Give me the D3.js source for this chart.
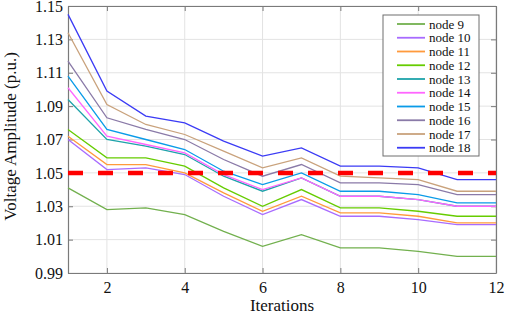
<!DOCTYPE html>
<meta charset="utf-8" />
<script src="https://d3js.org/d3.v7.min.js"></script>
<style>
  body { margin: 0; background: #fff; }
</style>
<div id="chart"></div>
<script>
  // iterations on the x axis
  const iterations = [1, 2, 3, 4, 5, 6, 7, 8, 9, 10, 11, 12];

  // voltage per node
  const node9 = [1.041, 1.028, 1.029, 1.025, 1.015, 1.006, 1.013, 1.005, 1.005, 1.003, 1.000, 1.000];
  const node10 = [1.070, 1.052, 1.053, 1.049, 1.036, 1.025, 1.034, 1.024, 1.024, 1.022, 1.019, 1.019];
  const node11 = [1.072, 1.055, 1.055, 1.050, 1.038, 1.027, 1.036, 1.026, 1.026, 1.024, 1.020, 1.020];
  const node12 = [1.076, 1.059, 1.059, 1.054, 1.041, 1.030, 1.040, 1.029, 1.029, 1.027, 1.024, 1.024];
  const node13 = [1.094, 1.070, 1.066, 1.061, 1.048, 1.039, 1.047, 1.036, 1.036, 1.034, 1.030, 1.030];
  const node14 = [1.101, 1.072, 1.067, 1.062, 1.049, 1.040, 1.047, 1.036, 1.036, 1.034, 1.030, 1.030];
  const node15 = [1.108, 1.076, 1.070, 1.064, 1.051, 1.043, 1.050, 1.039, 1.039, 1.037, 1.032, 1.032];
  const node16 = [1.117, 1.083, 1.076, 1.070, 1.058, 1.048, 1.055, 1.044, 1.044, 1.043, 1.037, 1.037];
  const node17 = [1.134, 1.091, 1.079, 1.073, 1.063, 1.053, 1.059, 1.048, 1.047, 1.046, 1.039, 1.039];
  const node18 = [1.145, 1.099, 1.084, 1.080, 1.069, 1.060, 1.065, 1.054, 1.054, 1.053, 1.046, 1.046];

  const seriesNames = ["node 9", "node 10", "node 11", "node 12", "node 13",
    "node 14", "node 15", "node 16", "node 17", "node 18"];
  const seriesValues = [node9, node10, node11, node12, node13, node14, node15, node16, node17, node18];
  const seriesColors = ["#72b04e", "#a86bff", "#ff9a3c", "#66cc00", "#1ea3aa",
    "#ff66ff", "#0a9be8", "#8a7aa8", "#c9a27c", "#3b3bf5"];

  const limitValue = 1.05;
  const xTicks = [2, 4, 6, 8, 10, 12];
  const yTicks = [0.99, 1.01, 1.03, 1.05, 1.07, 1.09, 1.11, 1.13, 1.15];

  const serif = '"Liberation Serif", "Times New Roman", serif';

  const margin = { top: 6, right: 9, bottom: 41, left: 68 },
    width = 505 - margin.left - margin.right,
    height = 314 - margin.top - margin.bottom;

  const svg = d3
    .select("#chart")
    .append("svg")
    .attr("width", 505)
    .attr("height", 314)
    .append("g")
    .attr("transform", `translate(${margin.left},${margin.top})`);

  const x = d3.scaleLinear().domain([1, 12]).range([0, width]);
  const y = d3.scaleLinear().domain([0.99, 1.15]).range([height, 0]);

  // grid
  svg.append("g")
    .selectAll("line")
    .data(xTicks)
    .join("line")
    .attr("x1", (d) => x(d)).attr("x2", (d) => x(d))
    .attr("y1", 0).attr("y2", height)
    .attr("stroke", "#e3e3e3").attr("stroke-width", 1);
  svg.append("g")
    .selectAll("line")
    .data(yTicks)
    .join("line")
    .attr("x1", 0).attr("x2", width)
    .attr("y1", (d) => y(d)).attr("y2", (d) => y(d))
    .attr("stroke", "#e3e3e3").attr("stroke-width", 1);

  // axes (ticks inward, box all round)
  const axisColor = "#7a7a7a";
  const styleAxis = (g) => {
    g.attr("font-family", null).attr("font-size", null);
    g.select(".domain").attr("stroke", axisColor).attr("stroke-width", 1.2);
    g.selectAll(".tick line").attr("stroke", axisColor);
    g.selectAll(".tick text")
      .attr("fill", "#111")
      .style("font-family", serif)
      .style("font-size", "16px");
  };
  svg.append("g")
    .attr("transform", `translate(0,${height})`)
    .call(d3.axisBottom(x).tickValues(xTicks).tickSizeInner(-5).tickSizeOuter(0).tickPadding(9))
    .call(styleAxis);
  svg.append("g")
    .call(d3.axisLeft(y).tickValues(yTicks).tickFormat(d3.format(".2f")).tickSizeInner(-5).tickSizeOuter(0).tickPadding(5))
    .call(styleAxis);
  svg.append("g")
    .call(d3.axisTop(x).tickValues(xTicks).tickSizeInner(-5).tickSizeOuter(0).tickFormat(""))
    .call(styleAxis);
  svg.append("g")
    .attr("transform", `translate(${width},0)`)
    .call(d3.axisRight(y).tickValues(yTicks).tickSizeInner(-5).tickSizeOuter(0).tickFormat(""))
    .call(styleAxis);

  // series lines
  const line = d3.line()
    .x((d, i) => x(iterations[i]))
    .y((d) => y(d));
  svg.append("g")
    .selectAll("path")
    .data(seriesValues)
    .join("path")
    .attr("fill", "none")
    .attr("stroke", (d, i) => seriesColors[i])
    .attr("stroke-width", 1.3)
    .attr("d", line);

  // limit line
  svg.append("line")
    .attr("x1", x(1)).attr("x2", x(12))
    .attr("y1", y(limitValue)).attr("y2", y(limitValue))
    .attr("stroke", "#ff0000")
    .attr("stroke-width", 4.5)
    .attr("stroke-dasharray", "15,15");

  // legend
  const legend = svg.append("g").attr("transform", "translate(315,9)");
  legend.append("rect")
    .attr("width", 96).attr("height", 141)
    .attr("fill", "white")
    .attr("stroke", "#6e6e6e")
    .attr("stroke-width", 1);
  const rows = legend.selectAll("g")
    .data(seriesNames)
    .join("g")
    .attr("transform", (d, i) => `translate(0,${9 + i * 13.75})`);
  rows.append("line")
    .attr("x1", 14).attr("x2", 42)
    .attr("stroke", (d, i) => seriesColors[i])
    .attr("stroke-width", 1.8);
  rows.append("text")
    .attr("x", 46).attr("y", 4.5)
    .style("font-family", serif)
    .style("font-size", "13px")
    .attr("fill", "#111")
    .text((d) => d);

  // axis titles
  svg.append("text")
    .attr("x", width / 2)
    .attr("y", height + 38)
    .attr("text-anchor", "middle")
    .style("font-family", serif)
    .style("font-size", "17px")
    .attr("fill", "#111")
    .text("Iterations");
  svg.append("text")
    .attr("transform", `translate(${-52},${height / 2 - 3}) rotate(-90)`)
    .attr("text-anchor", "middle")
    .style("font-family", serif)
    .style("font-size", "17px")
    .attr("fill", "#111")
    .text("Voltage Amplitude (p.u.)");
</script>
